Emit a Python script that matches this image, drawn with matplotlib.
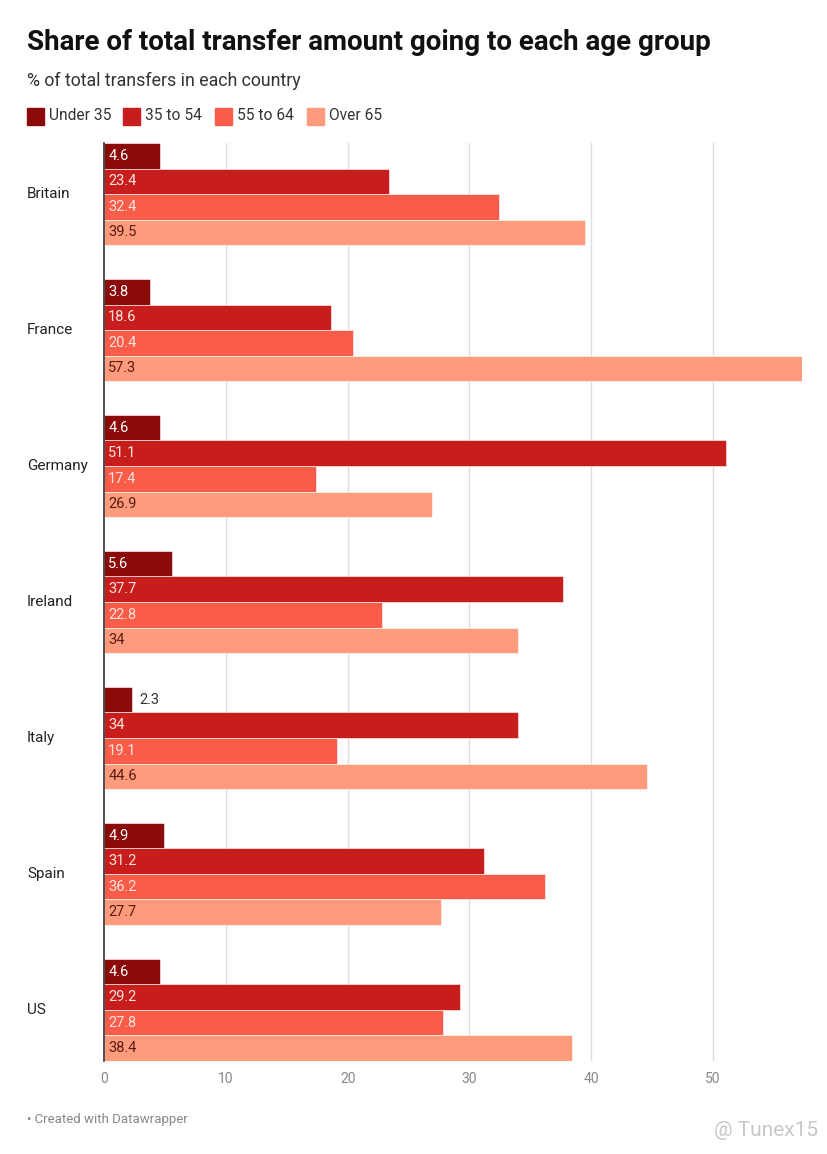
import matplotlib.pyplot as plt
from matplotlib.patches import Rectangle
from matplotlib.transforms import blended_transform_factory

plt.rcParams['font.family'] = ['Roboto', 'DejaVu Sans']

paises = ["Britain", "France", "Germany", "Ireland", "Italy", "Spain", "US"]
grupos = ["Under 35", "35 to 54", "55 to 64", "Over 65"]
under35 = [4.6, 3.8, 4.6, 5.6, 2.3, 4.9, 4.6]
de35a54 = [23.4, 18.6, 51.1, 37.7, 34, 31.2, 29.2]
de55a64 = [32.4, 20.4, 17.4, 22.8, 19.1, 36.2, 27.8]
over65 = [39.5, 57.3, 26.9, 34, 44.6, 27.7, 38.4]
ticks = [0, 10, 20, 30, 40, 50]

series = [under35, de35a54, de55a64, over65]
cores = ["#8b0a0a", "#c71e1d", "#fa5c4a", "#fe9b7c"]
cor_texto = ["white", "#fde3dc", "#fde3dc", "#5a1a10"]

fig = plt.figure(figsize=(8.28, 11.54), dpi=100)
ax = fig.add_axes([104/828, 1 - 1061/1154, (802-104)/828, (1061-143)/1154])

passo = 5.3333
for j, valores in enumerate(series):
    for i, v in enumerate(valores):
        y = i*passo + j
        ax.barh(y, v, height=1.0, color=cores[j], edgecolor="white", linewidth=0.4, zorder=2)
        if v < 3:
            ax.text(v + 0.6, y, str(v), va="center", ha="left", fontsize=10.5, color="#333333", zorder=3)
        else:
            ax.text(0.35, y, str(v), va="center", ha="left", fontsize=10.5, color=cor_texto[j], zorder=3)

trans = blended_transform_factory(fig.transFigure, ax.transData)
for i, p in enumerate(paises):
    ax.text(27/828, i*passo + 1.5, p, transform=trans, va="center", ha="left",
            fontsize=11, color="#222222")

ax.set_xlim(0, 57.3)
ax.set_ylim(6*passo + 3.5, -0.5)
ax.set_xticks(ticks)
ax.set_xticklabels([str(t) for t in ticks], fontsize=10, color="#888888")
ax.tick_params(axis="x", length=0, pad=8)
ax.set_yticks([])
for t in ticks[1:]:
    ax.axvline(t, color="#dddddd", linewidth=1, zorder=1)
for s in ["top", "right", "bottom"]:
    ax.spines[s].set_visible(False)
ax.spines["left"].set_color("#333333")
ax.spines["left"].set_linewidth(1.2)
ax.spines["left"].set_zorder(4)

fig.text(27/828, 1 - 42/1154, "Share of total transfer amount going to each age group",
         fontsize=20, fontweight="bold", color="#111111", va="center", ha="left")
fig.text(27/828, 1 - 81/1154, "% of total transfers in each country",
         fontsize=12.8, color="#333333", va="center", ha="left")

# legenda
xs = [27, 123, 215, 307]
for k, g in enumerate(grupos):
    fig.patches.append(Rectangle((xs[k]/828, 1 - 125/1154), 17/828, 17/1154,
                                 transform=fig.transFigure, color=cores[k]))
    fig.text((xs[k] + 22)/828, 1 - 116/1154, g, fontsize=11.2, color="#333333", va="center", ha="left")

fig.text(27/828, 1 - 1119/1154, "• Created with Datawrapper", fontsize=9.5, color="#888888",
         va="center", ha="left")
fig.text(818/828, 1 - 1130/1154, "@ Tunex15", fontsize=15, color="#c8c8c8",
         va="center", ha="right")

fig.savefig("out.png", dpi=100, facecolor="white")
